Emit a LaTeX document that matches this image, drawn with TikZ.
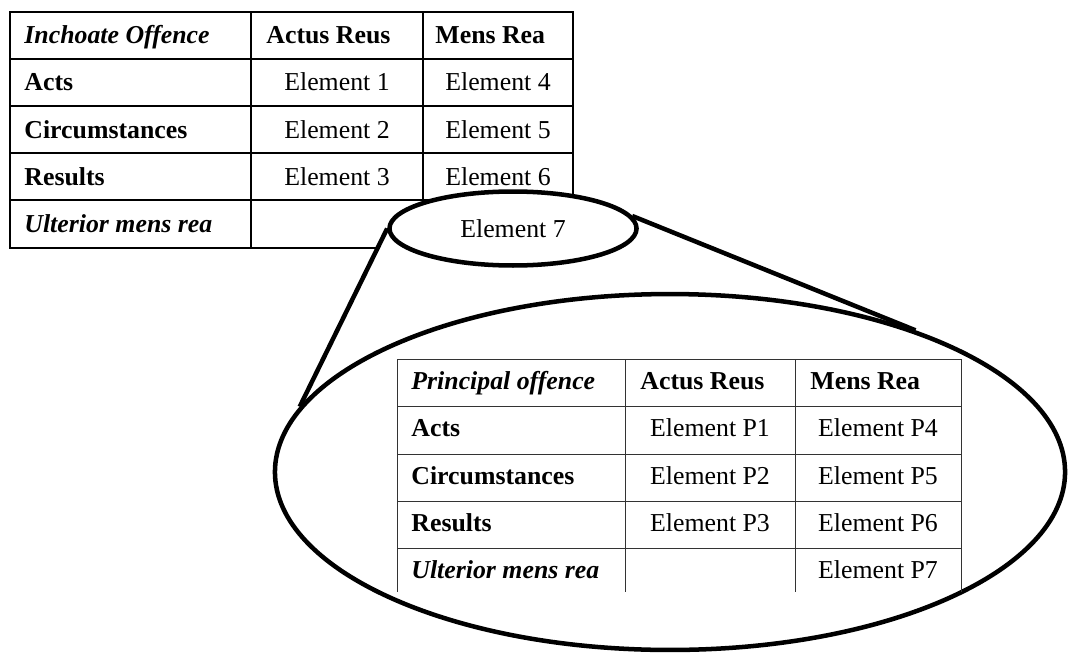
\documentclass[tikz,border=0pt]{standalone}
\usepackage{fontspec}
\setmainfont{Liberation Serif}
\usetikzlibrary{shapes.geometric}
\pgfdeclarelayer{tablayer}
\pgfdeclarelayer{beamlayer}
\pgfsetlayers{tablayer,beamlayer,main}

\begin{document}
\fontsize{12}{14}\selectfont
\begin{tikzpicture}[x=0.465pt,y=-0.465pt,
    rule/.style={line width=0.7pt},
    fine/.style={line width=0.45pt,black!80},
    hd/.style={anchor=base west,inner sep=0pt,font=\bfseries},
    hdit/.style={anchor=base west,inner sep=0pt,font=\bfseries\itshape},
    elem/.style={anchor=base,inner sep=0pt},
    rim/.style={draw,line width=2.1pt,fill=white,shape=ellipse,inner sep=0pt}]
  \useasboundingbox (0,0) rectangle (1069,654);
  % inchoate offence table
  \begin{pgfonlayer}{tablayer}
    \draw[rule] (10,12) rectangle (573,248);
    \foreach \y in {59,106,153,200} \draw[rule] (10,\y) -- (573,\y);
    \draw[rule] (251,12) -- (251,248) (423,12) -- (423,248);
    \node[hdit] (inch) at (24,44) {Inchoate Offence};
    \node[hd] (ar) at (266,44) {Actus Reus};
    \node[hd] (mr) at (435,44) {Mens Rea};
    \node[hd] (acts) at (24,91) {Acts};
    \node[hd] (circ) at (24,138) {Circumstances};
    \node[hd] (res) at (24,185) {Results};
    \node[hdit] (ult) at (24,232) {Ulterior mens rea};
    \foreach \n/\y in {1/91,2/138,3/185} \node[elem] (e\n) at (337,\y) {Element \n};
    \foreach \n/\y in {4/91,5/138,6/185} \node[elem] (e\n) at (498,\y) {Element \n};
  \end{pgfonlayer}
  % magnifier
  \node[rim,minimum width=367.4pt,minimum height=165.5pt] (zoom) at (670,472) {};
  \node[rim,minimum width=114.9pt,minimum height=34.4pt] (el7) at (513,228.5) {Element 7};
  \begin{pgfonlayer}{beamlayer}
    \fill[white] (el7.west) -- (zoom.170) -- (zoom.30) -- (el7.6) -- cycle;
  \end{pgfonlayer}
  \draw[line width=2.1pt] (el7.west) -- (zoom.170);
  \draw[line width=2.1pt] (el7.6) -- (zoom.30);
  % principal offence table
  \draw[fine] (397,359) -- (961,359);
  \foreach \y in {406,454,501,548} \draw[fine] (397,\y) -- (961,\y);
  \foreach \x in {397,625,795,961} \draw[fine] (\x,359) -- (\x,592);
  \node[hdit] (pinch) at (411,389) {Principal offence};
  \node[hd] (par) at (640,389) {Actus Reus};
  \node[hd] (pmr) at (810,389) {Mens Rea};
  \node[hd] (pacts) at (411,436) {Acts};
  \node[hd] (pcirc) at (411,484) {Circumstances};
  \node[hd] (pres) at (411,531) {Results};
  \node[hdit] (pult) at (411,578) {Ulterior mens rea};
  \foreach \n/\y in {1/436,2/484,3/531} \node[elem] (p\n) at (710,\y) {Element P\n};
  \foreach \n/\y in {4/436,5/484,6/531,7/578} \node[elem] (p\n) at (878,\y) {Element P\n};
\end{tikzpicture}
\end{document}
